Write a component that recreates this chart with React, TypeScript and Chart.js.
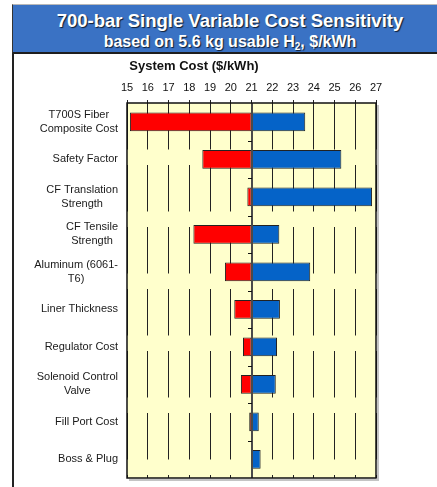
import React, { useEffect, useRef } from "react";
import { Chart, registerables } from "chart.js";

Chart.register(...registerables);

// ---- data ----
const categories: string[][] = [
  ["T700S Fiber", "Composite Cost"],
  ["Safety Factor"],
  ["CF Translation", "Strength"],
  ["CF Tensile", "Strength"],
  ["Aluminum (6061-", "T6)"],
  ["Liner Thickness"],
  ["Regulator Cost"],
  ["Solenoid Control", "Valve"],
  ["Fill Port Cost"],
  ["Boss & Plug"],
];
const baseCost = 21;
const lowValues: (number | null)[] = [15.14, 18.63, 20.8, 18.2, 19.72, 20.17, 20.59, 20.49, 20.89, null];
const highValues: (number | null)[] = [23.59, 25.33, 26.81, 22.34, 23.83, 22.37, 22.23, 22.17, 21.35, 21.44];
const xMin = 15;
const xMax = 27;
const xStep = 1;

const titleText = "700-bar Single Variable Cost Sensitivity";
const subtitleText = "based on 5.6 kg usable H";
const axisTitle = "System Cost ($/kWh)";

const FONT = '"Liberation Sans", Arial, Helvetica, sans-serif';

const decorPlugin = {
  id: "decor",
  beforeDraw(chart: any) {
    const { ctx, chartArea: a } = chart;
    ctx.save();
    ctx.fillStyle = "#FFFFCC";
    ctx.fillRect(a.left, a.top, a.right - a.left, a.bottom - a.top);
    ctx.restore();
  },
  afterDatasetsDraw(chart: any) {
    const { ctx, chartArea: a, scales } = chart;
    const x = scales.x;
    const y = scales.y;
    const cx = Math.round(x.getPixelForValue(baseCost));
    ctx.save();
    // center axis at base value
    ctx.strokeStyle = "#4a4a4a";
    ctx.lineWidth = 2;
    ctx.beginPath();
    ctx.moveTo(cx, a.top);
    ctx.lineTo(cx, a.bottom);
    ctx.stroke();
    // category tick marks on center axis
    ctx.strokeStyle = "#111";
    ctx.lineWidth = 1;
    for (let i = 1; i < categories.length; i++) {
      const yy = Math.round((y.getPixelForValue(i - 1) + y.getPixelForValue(i)) / 2) + 0.5;
      ctx.beginPath();
      ctx.moveTo(cx - 4, yy);
      ctx.lineTo(cx, yy);
      ctx.stroke();
    }
    // shadow
    ctx.fillStyle = "#c4c4c4";
    ctx.fillRect(a.right + 1, a.top + 2, 2, a.bottom - a.top + 1);
    ctx.fillRect(a.left + 2, a.bottom + 1, a.right - a.left + 1, 2);
    // border
    ctx.strokeStyle = "#111";
    ctx.lineWidth = 1.5;
    ctx.strokeRect(a.left, a.top, a.right - a.left, a.bottom - a.top);
    // category labels
    ctx.font = `11px ${FONT}`;
    ctx.fillStyle = "#1a1a1a";
    ctx.textAlign = "center";
    ctx.textBaseline = "middle";
    const rightEdge = a.left - 9;
    const lh = 14;
    (chart.data.labels as any[]).forEach((lab, i) => {
      const lines: string[] = Array.isArray(lab) ? lab : [lab];
      const w = Math.max(...lines.map((l) => ctx.measureText(l).width));
      const lx = rightEdge - w / 2;
      const cy = y.getPixelForValue(i);
      lines.forEach((l, j) => ctx.fillText(l, lx, cy + (j - (lines.length - 1) / 2) * lh));
    });
    ctx.restore();
  },
};

export default function App() {
  const ref = useRef<HTMLCanvasElement | null>(null);

  useEffect(() => {
    if (!ref.current) return;
    const chart = new Chart(ref.current, {
      type: "bar",
      data: {
        labels: categories,
        datasets: [
          {
            label: "Low",
            data: lowValues.map((v) => (v == null ? null : [v, baseCost])) as any,
            backgroundColor: "#FF0000",
            borderColor: "#222222",
            borderWidth: 1,
            borderSkipped: false,
            grouped: false,
            categoryPercentage: 1,
            barPercentage: 0.5,
          } as any,
          {
            label: "High",
            data: highValues.map((v) => (v == null ? null : [baseCost, v])) as any,
            backgroundColor: "#0563C8",
            borderColor: "#222222",
            borderWidth: 1,
            borderSkipped: false,
            grouped: false,
            categoryPercentage: 1,
            barPercentage: 0.5,
          } as any,
        ],
      },
      options: {
        indexAxis: "y",
        responsive: false,
        animation: false,
        layout: { padding: { left: 0, right: 28, top: 0, bottom: 9 } },
        plugins: {
          legend: { display: false },
          tooltip: { enabled: false },
          title: {
            display: true,
            text: axisTitle,
            color: "#111",
            font: { family: FONT, size: 13, weight: "bold" },
            padding: { top: 3, bottom: 3 },
          },
        },
        scales: {
          x: {
            type: "linear",
            position: "top",
            min: xMin,
            max: xMax,
            ticks: {
              stepSize: xStep,
              color: "#111",
              font: { family: FONT, size: 11 },
              padding: 5,
              maxRotation: 0,
            },
            grid: {
              color: "#222",
              lineWidth: 1,
              tickLength: 3,
              tickColor: "#222",
              drawOnChartArea: true,
            },
            border: { display: false, dash: [46.5, 15.5] },
            afterFit: (s: any) => {
              s.height = 25.4;
            },
          } as any,
          y: {
            type: "category",
            grid: { display: false },
            border: { display: false },
            ticks: { display: false },
            afterFit: (s: any) => {
              s.width = 115;
            },
          } as any,
        },
      },
      plugins: [decorPlugin],
    });
    return () => chart.destroy();
  }, []);

  return (
    <div
      style={{
        position: "fixed",
        left: 0,
        top: 0,
        width: 437,
        height: 487,
        overflow: "hidden",
        background: "#fff",
        fontFamily: FONT,
      }}
    >
      <div
        style={{
          position: "absolute",
          left: 12,
          top: 4,
          width: 436,
          height: 50,
          boxSizing: "border-box",
          background: "#3A72C4",
          borderTop: "1px solid #b8b8b8",
          borderLeft: "1px solid #333",
          borderBottom: "2px solid #1e1e1e",
        }}
      />
      <div
        style={{
          position: "absolute",
          left: 12,
          width: 436,
          top: 11,
          textAlign: "center",
          color: "#fff",
          fontWeight: "bold",
          fontSize: 18.5,
          lineHeight: "20px",
          whiteSpace: "nowrap",
          textShadow: "1px 1px 1px rgba(0,0,0,0.75)",
        }}
      >
        {titleText}
      </div>
      <div
        style={{
          position: "absolute",
          left: 12,
          width: 436,
          top: 32.5,
          textAlign: "center",
          color: "#fff",
          fontWeight: "bold",
          fontSize: 16,
          lineHeight: "18px",
          whiteSpace: "nowrap",
          textShadow: "1px 1px 1px rgba(0,0,0,0.75)",
        }}
      >
        {subtitleText}
        <sub style={{ fontSize: 10, verticalAlign: "-3px" }}>2</sub>, $/kWh
      </div>
      <div
        style={{
          position: "absolute",
          left: 12,
          top: 53,
          width: 1.5,
          height: 434,
          background: "#222",
        }}
      />
      <canvas
        ref={ref}
        width={392}
        height={431}
        style={{ position: "absolute", left: 12, top: 56, width: 392, height: 431 }}
      />
    </div>
  );
}
